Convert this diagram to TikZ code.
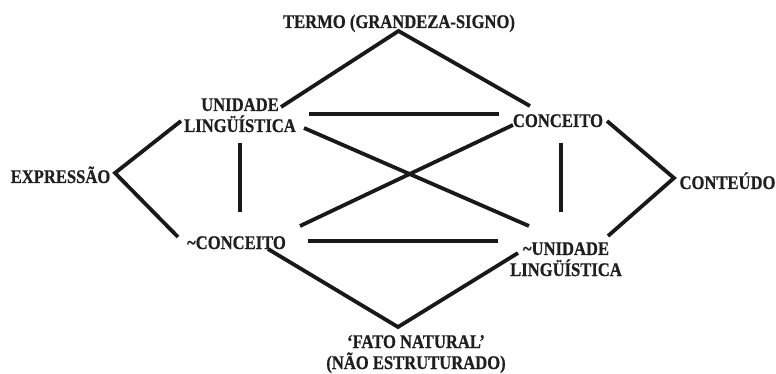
\documentclass[tikz,border=0pt]{standalone}
\usepackage{fontspec}
\newfontfamily\lblfont[FakeStretch=0.86, BoldFeatures={FakeBold=0.7}]{Liberation Serif}
\begin{document}
\begin{tikzpicture}[x=1pt,y=-1pt,
  lbl/.style={font={\lblfont\bfseries\fontsize{19.3}{21}\selectfont}, text=black!88, inner sep=0pt, align=center, anchor=base},
  link/.style={draw=black!90, line width=3.8pt, line join=miter},
  bar/.style={draw=black!90, line width=4.6pt}]
\useasboundingbox (0,0) rectangle (776,374);
% labels (anchor = baseline of the last line)
\node[lbl] (termo) at (399,28) {TERMO (GRANDEZA-SIGNO)};
\node[lbl] (ul) at (240,132) {UNIDADE\\LINGÜÍSTICA};
\node[lbl] (conc) at (558,127) {CONCEITO};
\node[lbl] (expr) at (60.5,183) {EXPRESSÃO};
\node[lbl] (cont) at (727.5,189) {CONTEÚDO};
\node[lbl] (nconc) at (236.5,249) {\~{}CONCEITO};
\node[lbl] (nul) at (566,276) {\~{}UNIDADE\\LINGÜÍSTICA};
\node[lbl] (fato) at (416,369) {‘FATO NATURAL’\\(NÃO ESTRUTURADO)};
% connector points
\coordinate (top) at (398.5,31);
\coordinate (ulA) at (281,107);
\coordinate (concA) at (530,106);
\coordinate (ulB) at (309,114);
\coordinate (concB) at (499,114);
\coordinate (ulC) at (304,128);
\coordinate (nulC) at (529,226);
\coordinate (nconcC) at (300,226);
\coordinate (concC) at (513,125);
\coordinate (ulD) at (240,143);
\coordinate (nconcD) at (240,212);
\coordinate (concD) at (561,143);
\coordinate (nulD) at (561,212);
\coordinate (nconcE) at (308,241);
\coordinate (nulE) at (498,241);
\coordinate (exprV) at (115,173);
\coordinate (ulF) at (181,121);
\coordinate (nconcF) at (178,237);
\coordinate (contV) at (674,178);
\coordinate (concF) at (607,121);
\coordinate (nulF) at (608,236);
\coordinate (fatoV) at (398,327);
\coordinate (nconcG) at (268,249);
\coordinate (nulG) at (518,253);
% connectors
\draw[link] (ulA) -- (top) -- (concA);
\draw[bar] (ulB) -- (concB);
\draw[link] (ulC) -- (nulC);
\draw[link] (nconcC) -- (concC);
\draw[link] (ulD) -- (nconcD);
\draw[link] (concD) -- (nulD);
\draw[bar] (nconcE) -- (nulE);
\draw[link] (ulF) -- (exprV) -- (nconcF);
\draw[link] (concF) -- (contV) -- (nulF);
\draw[link] (nconcG) -- (fatoV) -- (nulG);
\end{tikzpicture}
\end{document}
